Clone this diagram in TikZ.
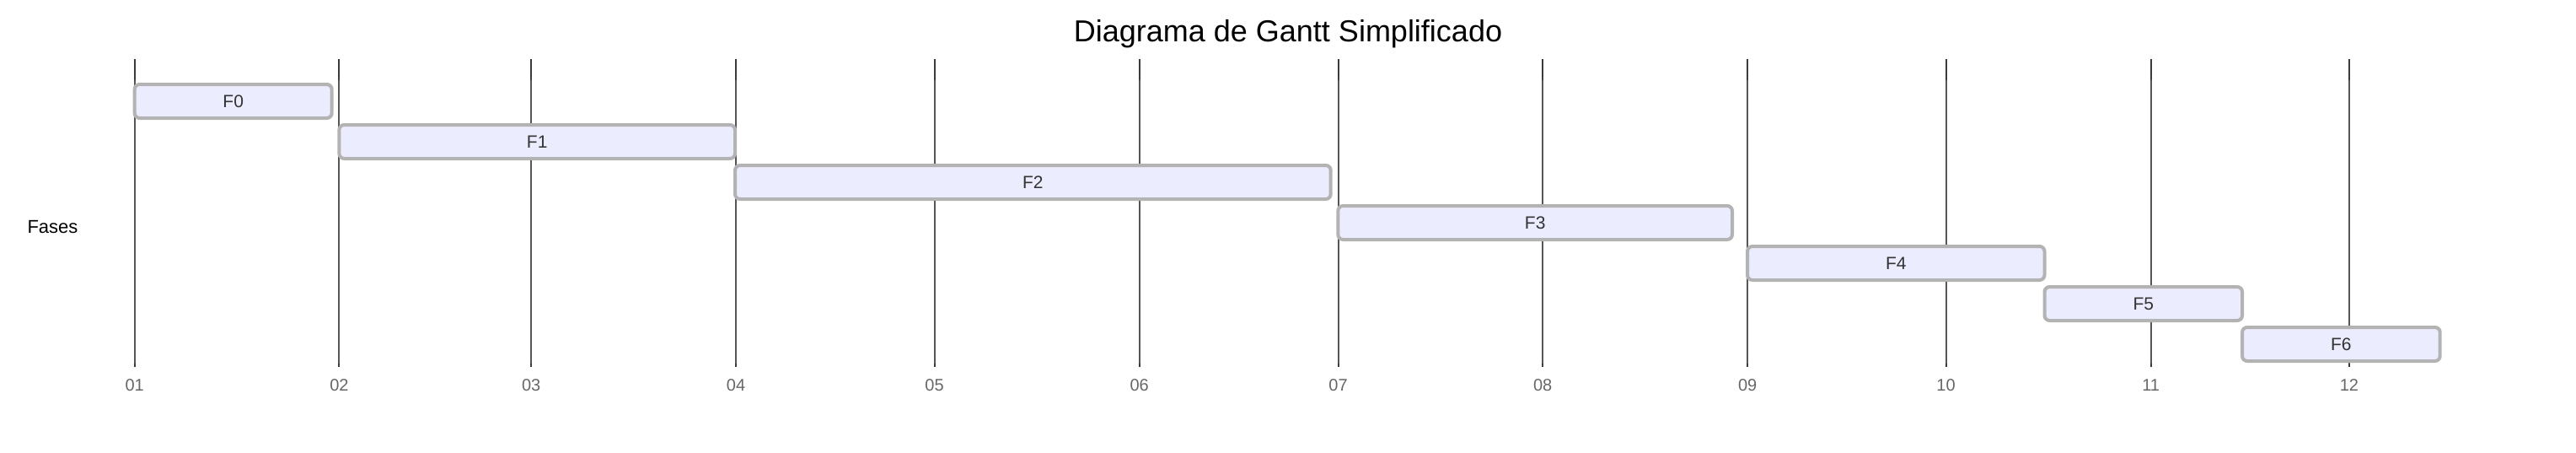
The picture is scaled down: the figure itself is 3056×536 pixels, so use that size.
\documentclass[tikz,border=0pt]{standalone}
\usepackage{fontspec}
\setmainfont{Liberation Sans}
\definecolor{barfill}{HTML}{ECECFF}
\definecolor{barline}{HTML}{B3B3B3}
\definecolor{gridc}{HTML}{555555}
\definecolor{gridtick}{HTML}{3A3A3A}
\definecolor{tickc}{HTML}{666666}
\definecolor{bartext}{HTML}{333333}
\begin{document}
\begin{tikzpicture}[x=1pt,y=-1pt,
  ganttbar/.style={draw=barline, line width=4pt, fill=barfill, rounded corners=6pt,
    text=bartext, font=\fontsize{21}{21}\selectfont, inner sep=0pt, minimum height=40pt},
  gridline/.style={draw=gridc, line width=2pt},
  gridend/.style={draw=gridtick, line width=2pt},
  ticklabel/.style={text=tickc, font=\fontsize{20}{20}\selectfont, inner sep=0pt},
  titletext/.style={text=black, font=\fontsize{36}{36}\selectfont, inner sep=0pt},
  sectiontext/.style={text=black, font=\fontsize{22}{22}\selectfont, inner sep=0pt}]
\useasboundingbox (0,0) rectangle (3056,536);
% grid lines and tick labels
\foreach \gx/\gl in {159.7/01, 402.4/02, 630.2/03, 873.0/04, 1108.6/05, 1351.7/06,
                     1587.5/07, 1830.1/08, 2073.2/09, 2308.5/10, 2551.6/11, 2786.9/12} {
  \draw[gridline] (\gx,70) -- (\gx,435);
  \draw[gridend] (\gx,70) -- (\gx,95);
  \draw[gridend] (\gx,431) -- (\gx,435);
  \node[ticklabel] (t\gl) at (\gx,457) {\gl};
}
% title
\node[titletext, anchor=base] (title) at (1528,49) {Diagrama de Gantt Simplificado};
% section label
\node[sectiontext, anchor=west] (fases) at (32.3,269) {Fases};
% bars
\node[ganttbar, minimum width=234pt]   (f0) at (276.7,120)  {F0};
\node[ganttbar, minimum width=469.6pt] (f1) at (637.2,168)  {F1};
\node[ganttbar, minimum width=706.7pt] (f2) at (1225.35,216) {F2};
\node[ganttbar, minimum width=467.7pt] (f3) at (1821.15,264) {F3};
\node[ganttbar, minimum width=352.5pt] (f4) at (2249.25,312) {F4};
\node[ganttbar, minimum width=234.5pt] (f5) at (2542.75,360) {F5};
\node[ganttbar, minimum width=234.7pt] (f6) at (2777.35,408) {F6};
\end{tikzpicture}
\end{document}
